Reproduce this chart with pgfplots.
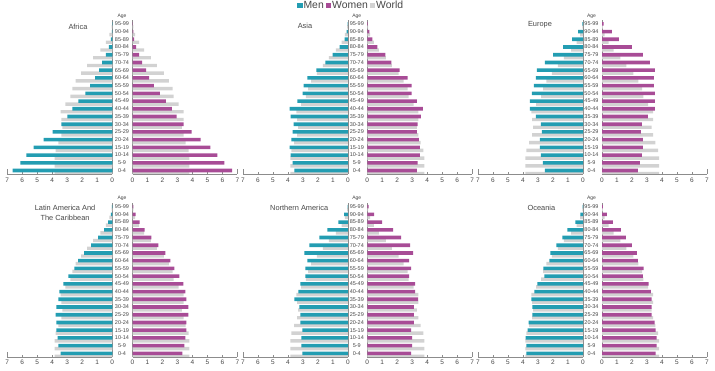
\documentclass[border=0pt]{standalone}
\usepackage{fontspec}
\setmainfont{Liberation Sans}
\usepackage{pgfplots}
\usepackage{pgfplotstable}
\pgfplotsset{compat=1.18}

\definecolor{menc}{RGB}{35,157,178}
\definecolor{womenc}{RGB}{168,76,150}
\definecolor{worldc}{RGB}{210,210,210}
\definecolor{axc}{RGB}{140,140,140}
\definecolor{txc}{RGB}{70,70,70}

% world: wm = men, ww = women (same in every panel)
\pgfplotstableread{
i wm ww
0 3.85 3.80
1 3.85 3.80
2 3.85 3.80
3 3.78 3.74
4 3.60 3.55
5 3.40 3.41
6 3.32 3.30
7 3.40 3.41
8 3.45 3.41
9 3.12 3.08
10 2.80 2.75
11 2.66 2.68
12 2.45 2.42
13 2.07 2.09
14 1.67 1.63
15 1.27 1.23
16 0.80 0.77
17 0.42 0.44
18 0.20 0.18
19 0.05 0.05
}\world

\pgfplotstableread{
i m w
0 6.64 6.65
1 6.12 6.12
2 5.72 5.66
3 5.24 5.20
4 4.58 4.54
5 3.98 3.94
6 3.39 3.41
7 2.99 2.95
8 2.66 2.62
9 2.26 2.22
10 1.80 1.83
11 1.47 1.43
12 1.14 1.10
13 0.88 0.90
14 0.68 0.64
15 0.42 0.44
16 0.22 0.24
17 0.09 0.11
18 0.03 0.05
19 0.01 0.02
}\africa

\pgfplotstableread{
i m w
0 3.57 3.30
1 3.70 3.36
2 3.83 3.50
3 3.90 3.50
4 3.77 3.43
5 3.70 3.30
6 3.63 3.36
7 3.83 3.57
8 3.90 3.70
9 3.37 3.30
10 3.03 2.96
11 2.96 2.96
12 2.70 2.69
13 2.10 2.15
14 1.50 1.61
15 1.03 1.21
16 0.56 0.67
17 0.22 0.34
18 0.09 0.13
19 0.02 0.03
}\asia

\pgfplotstableread{
i m w
0 2.54 2.39
1 2.67 2.52
2 2.81 2.65
3 2.87 2.72
4 2.87 2.72
5 2.74 2.59
6 2.81 2.65
7 3.14 3.05
8 3.55 3.52
9 3.55 3.52
10 3.41 3.52
11 3.28 3.46
12 3.14 3.46
13 3.07 3.52
14 2.54 3.19
15 2.00 2.72
16 1.33 1.99
17 0.72 1.12
18 0.32 0.65
19 0.05 0.10
}\europe

\pgfplotstableread{
i m w
0 3.45 3.32
1 3.59 3.46
2 3.65 3.52
3 3.72 3.59
4 3.72 3.59
5 3.78 3.72
6 3.72 3.72
7 3.59 3.59
8 3.52 3.52
9 3.26 3.39
10 2.93 3.12
11 2.53 2.79
12 2.27 2.53
13 1.87 2.19
14 1.41 1.73
15 0.94 1.26
16 0.55 0.80
17 0.28 0.47
18 0.09 0.20
19 0.02 0.05
}\latam

\pgfplotstableread{
i m w
0 3.04 2.92
1 3.10 2.98
2 3.10 2.98
3 3.04 2.92
4 3.17 3.11
5 3.17 3.11
6 3.24 3.11
7 3.57 3.38
8 3.30 3.18
9 3.17 3.18
10 2.84 2.78
11 2.84 2.92
12 2.70 2.78
13 2.90 3.05
14 2.57 2.85
15 1.91 2.25
16 1.38 1.72
17 0.64 0.99
18 0.25 0.46
19 0.03 0.08
}\namerica

\pgfplotstableread{
i m w
0 3.77 3.58
1 3.77 3.64
2 3.83 3.64
3 3.70 3.58
4 3.63 3.51
5 3.37 3.31
6 3.37 3.31
7 3.44 3.31
8 3.24 3.25
9 3.04 3.11
10 2.57 2.72
11 2.64 2.78
12 2.24 2.39
13 2.17 2.32
14 1.77 1.99
15 1.38 1.59
16 1.04 1.26
17 0.51 0.73
18 0.18 0.33
19 0.03 0.05
}\oceania

\pgfplotsset{
  pyr/.style={scale only axis, width=105pt, height=154pt, anchor=south west,
    xmin=0, xmax=7, ymin=-0.45, ymax=19.5,
    axis x line*=bottom, xtick={0,1,...,7}, tick align=inside, major tick length=2pt,
    tick style={draw=axc, line width=0.4pt},
    axis line style={draw=axc, line width=0.5pt},
    xticklabel style={font=\fontsize{6.5}{6.5}\selectfont, text=txc},
    /pgf/number format/assume math mode=true,
    extra x ticks={7}, extra x tick labels={},
    extra x tick style={major tick length=5pt},
    ytick={0,1,...,19}, ytick style={draw=none},
    every axis title/.style={font=\fontsize{7.4}{9.5}\selectfont, text=txc, anchor=center, align=center},
  },
  pyrL/.style={pyr, x dir=reverse, axis y line*=right, yticklabels={}},
  pyrR/.style={pyr, axis y line*=left,
    yticklabels={0-4,5-9,10-14,15-19,20-24,25-29,30-34,35-39,40-44,45-49,50-54,55-59,60-64,65-69,70-74,75-79,80-84,85-89,90-94,95-99},
    yticklabel style={font=\fontsize{5.5}{5.5}\selectfont, text=txc, anchor=center, xshift=-10.5pt},
    ylabel={Age},
    every axis y label/.style={at={(axis description cs:-0.1,1.027)}, anchor=center, font=\fontsize{5}{5}\selectfont, text=txc}},
  wbar/.style={xbar, bar width=3.4pt, bar shift=-3pt, fill=worldc, draw=none},
  mbar/.style={xbar, bar width=3.6pt, bar shift=0pt, fill=menc, draw=none},
  fbar/.style={xbar, bar width=3.6pt, bar shift=0pt, fill=womenc, draw=none},
}

\begin{document}
\begin{tikzpicture}
\useasboundingbox (0pt,0pt) rectangle (715pt,370pt);

% ---------- Africa ----------
\begin{axis}[pyrL, at={(7.3pt,196pt)}, title={Africa}, title style={at={(axis description cs:0.673,0.955)}}]
\addplot[wbar] table[x=wm,y=i]{\world};
\addplot[mbar] table[x=m,y=i]{\africa};
\end{axis}
\begin{axis}[pyrR, at={(132.5pt,196pt)}]
\addplot[wbar] table[x=ww,y=i]{\world};
\addplot[fbar] table[x=w,y=i]{\africa};
\end{axis}

% ---------- Asia ----------
\begin{axis}[pyrL, at={(243pt,196pt)}, title={Asia}, title style={at={(axis description cs:0.59,0.961)}},
  legend columns=3,
  legend image code/.code={\fill[#1] (0pt,-2.7pt) rectangle (5.4pt,2.7pt);},
  legend style={at={(axis description cs:0.514,1.096)}, anchor=west, draw=none, fill=none,
    inner sep=0pt, font=\fontsize{10.4}{11}\selectfont, text=txc,
    nodes={inner sep=1pt},
    /tikz/every even column/.append style={column sep=1pt}}]
\addlegendimage{fill=menc,draw=none}\addlegendentry{Men}
\addlegendimage{fill=womenc,draw=none}\addlegendentry{Women}
\addlegendimage{fill=worldc,draw=none}\addlegendentry{World}
\addplot[wbar] table[x=wm,y=i]{\world};
\addplot[mbar] table[x=m,y=i]{\asia};
\end{axis}
\begin{axis}[pyrR, at={(367.3pt,196pt)}]
\addplot[wbar] table[x=ww,y=i]{\world};
\addplot[fbar] table[x=w,y=i]{\asia};
\end{axis}

% ---------- Europe ----------
\begin{axis}[pyrL, at={(478pt,196pt)}, title={Europe}, title style={at={(axis description cs:0.59,0.967)}}]
\addplot[wbar] table[x=wm,y=i]{\world};
\addplot[mbar] table[x=m,y=i]{\europe};
\end{axis}
\begin{axis}[pyrR, at={(602pt,196pt)}]
\addplot[wbar] table[x=ww,y=i]{\world};
\addplot[fbar] table[x=w,y=i]{\europe};
\end{axis}

% ---------- Latin America ----------
\begin{axis}[pyrL, at={(7.3pt,13.2pt)}, title={Latin America And\\The Caribbean}, title style={at={(axis description cs:0.55,0.934)}}]
\addplot[wbar] table[x=wm,y=i]{\world};
\addplot[mbar] table[x=m,y=i]{\latam};
\end{axis}
\begin{axis}[pyrR, at={(132.5pt,13.2pt)}]
\addplot[wbar] table[x=ww,y=i]{\world};
\addplot[fbar] table[x=w,y=i]{\latam};
\end{axis}

% ---------- Northern America ----------
\begin{axis}[pyrL, at={(243pt,13.2pt)}, title={Northern America}, title style={at={(axis description cs:0.535,0.966)}}]
\addplot[wbar] table[x=wm,y=i]{\world};
\addplot[mbar] table[x=m,y=i]{\namerica};
\end{axis}
\begin{axis}[pyrR, at={(367.3pt,13.2pt)}]
\addplot[wbar] table[x=ww,y=i]{\world};
\addplot[fbar] table[x=w,y=i]{\namerica};
\end{axis}

% ---------- Oceania ----------
\begin{axis}[pyrL, at={(478pt,13.2pt)}, title={Oceania}, title style={at={(axis description cs:0.604,0.966)}}]
\addplot[wbar] table[x=wm,y=i]{\world};
\addplot[mbar] table[x=m,y=i]{\oceania};
\end{axis}
\begin{axis}[pyrR, at={(602pt,13.2pt)}]
\addplot[wbar] table[x=ww,y=i]{\world};
\addplot[fbar] table[x=w,y=i]{\oceania};
\end{axis}
\end{tikzpicture}
\end{document}
